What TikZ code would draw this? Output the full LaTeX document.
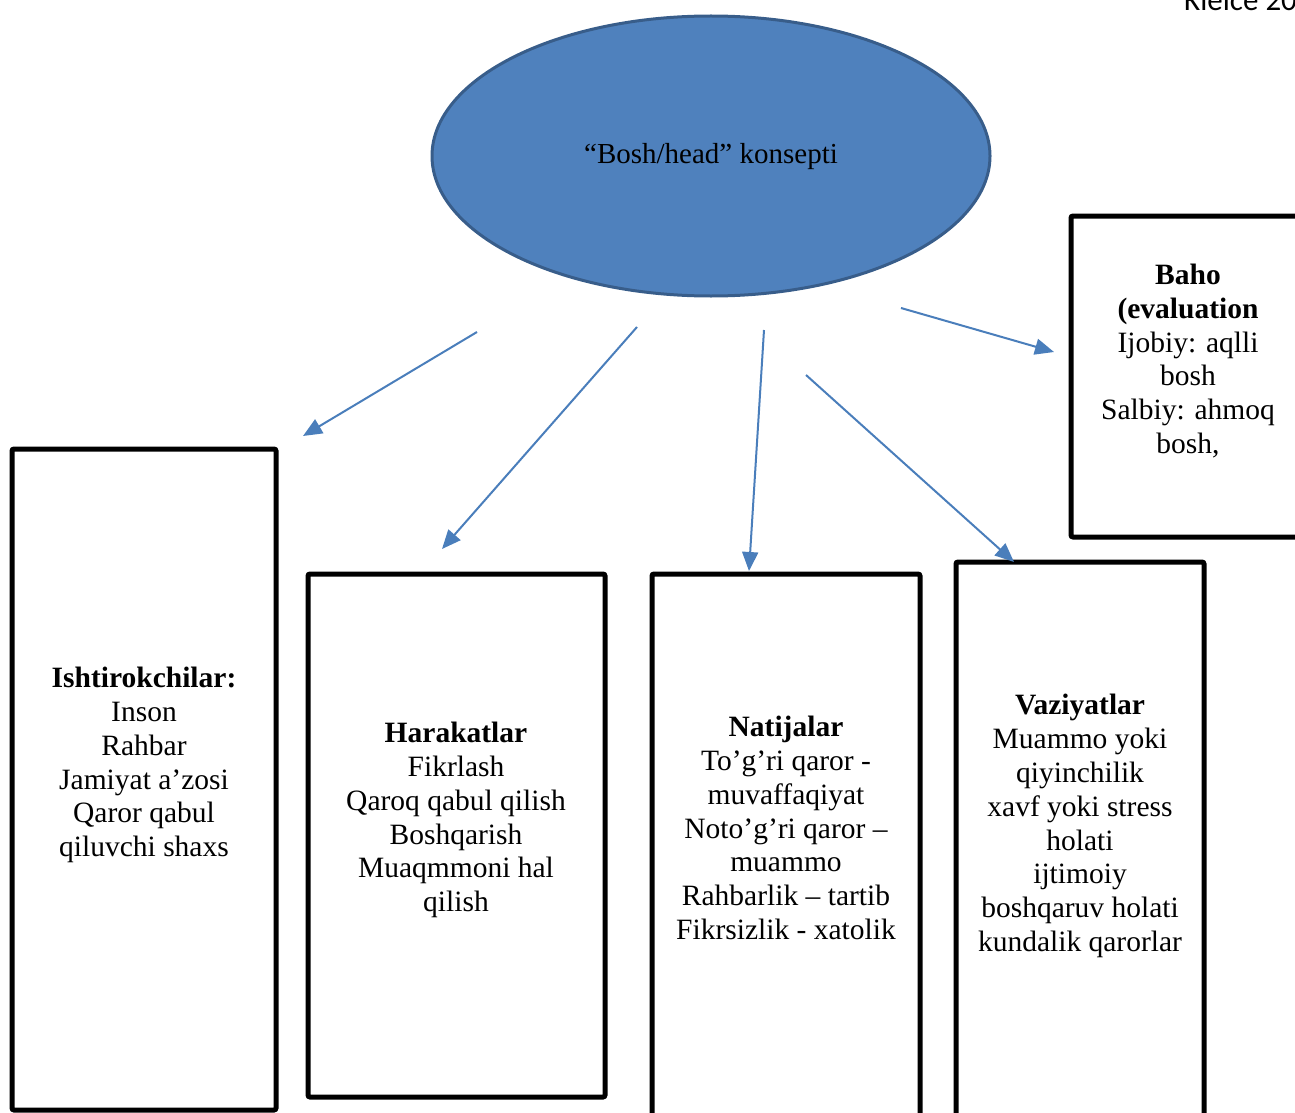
\documentclass[tikz,border=0pt]{standalone}
\usepackage{fontspec}
\setmainfont{Liberation Serif}
\newfontfamily\calib{Carlito}
\usetikzlibrary{arrows.meta,shapes.geometric}
\definecolor{ellfill}{HTML}{4F81BD}
\definecolor{elldraw}{HTML}{385D8A}
\definecolor{arrblue}{HTML}{4A7EBB}
\tikzset{
  framebox/.style={draw=black,line width=5pt,rounded corners=2pt},
  txt/.style={align=center,inner sep=0pt,font=\fontsize{29.5}{33.8}\selectfont},
  conn/.style={draw=arrblue,line width=2pt,-{Triangle[length=19pt,width=16pt]}}
}
\begin{document}
\begin{tikzpicture}[x=1pt,y=-1pt]
\useasboundingbox (0,0) rectangle (1295,1113);
% header fragment
\node[anchor=base west,inner sep=0pt,font=\calib\fontsize{31}{36}\selectfont] (hdr) at (1184,11) {Kielce 2025};
% ellipse
\node[ellipse,draw=elldraw,fill=ellfill,line width=3pt,minimum width=558pt,minimum height=280pt,inner sep=0pt] (ell) at (711,156) {};
\node[inner sep=0pt,font=\fontsize{29}{34}\selectfont] (ellt) at (711,157) {“Bosh/head” konsepti};
% boxes
\draw[framebox] (12,449) rectangle (276,1110);
\draw[framebox] (308,574) rectangle (605,1097);
\draw[framebox] (652,574) rectangle (920,1130);
\draw[framebox] (956,562) rectangle (1204,1130);
\draw[framebox] (1071,216) rectangle (1310,537);
% texts
\node[txt] (t1) at (144,765) {\textbf{Ishtirokchilar:}\\Inson\\Rahbar\\Jamiyat a’zosi\\Qaror qabul\\qiluvchi shaxs};
\node[txt] (t2) at (456,820) {\textbf{Harakatlar}\\Fikrlash\\Qaroq qabul qilish\\Boshqarish\\Muaqmmoni hal\\qilish};
\node[txt] (t3) at (786,828) {\textbf{Natijalar}\\To’g’ri qaror -\\muvaffaqiyat\\Noto’g’ri qaror –\\muammo\\Rahbarlik – tartib\\Fikrsizlik - xatolik};
\node[txt] (t4) at (1080,826) {\textbf{Vaziyatlar}\\Muammo yoki\\qiyinchilik\\xavf yoki stress\\holati\\ijtimoiy\\boshqaruv holati\\kundalik qarorlar};
\node[txt] (t5) at (1188,361) {\textbf{Baho}\\\textbf{(evaluation}\\Ijobiy: aqlli\\bosh\\Salbiy: ahmoq\\bosh,};
% arrow endpoints
\coordinate (s1) at (477,332); \coordinate (e1) at (303,436);
\coordinate (s2) at (637,327); \coordinate (e2) at (442,549);
\coordinate (s3) at (764,330); \coordinate (e3) at (749,571);
\coordinate (s4) at (806,375); \coordinate (e4) at (1014,562);
\coordinate (s5) at (901,308); \coordinate (e5) at (1054,352);
\draw[conn] (s1) -- (e1);
\draw[conn] (s2) -- (e2);
\draw[conn] (s3) -- (e3);
\draw[conn] (s4) -- (e4);
\draw[conn] (s5) -- (e5);
\end{tikzpicture}
\end{document}
